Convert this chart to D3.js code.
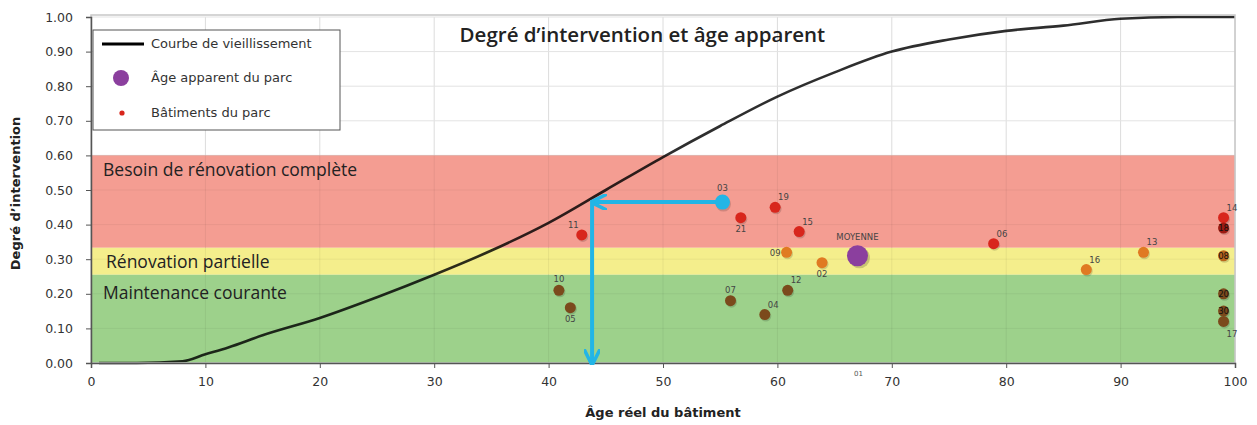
<!DOCTYPE html>
<html>
<head>
<meta charset="utf-8">
<script src="https://cdn.jsdelivr.net/npm/d3@7"></script>
<style>
  body { margin: 0; background: #fff; }
  text { font-family: "DejaVu Sans", "Liberation Sans", sans-serif; }
</style>
</head>
<body>
<svg id="chart"></svg>
<script>
(function() {

// Courbe de vieillissement (age, degré)
const curveAge   = [0.7, 4, 8, 10, 12, 15, 20, 25, 30, 35, 40, 45, 50, 55, 60, 65, 70, 75, 80, 85, 90, 95, 100];
const curveValue = [0, 0, 0.005, 0.025, 0.045, 0.08, 0.13, 0.19, 0.255, 0.325, 0.405, 0.5, 0.595, 0.685, 0.77, 0.84, 0.9, 0.935, 0.96, 0.975, 0.995, 1.0, 1.0];

// Bâtiments du parc
const bldLabels = ["19", "21", "15", "11", "09", "02", "10", "05", "07", "04", "12", "06", "16", "13", "14", "18", "08", "20", "30", "17"];
const bldAge    = [59.8, 56.8, 61.9, 42.9, 60.8, 63.9, 40.9, 41.9, 55.9, 58.9, 60.9, 78.9, 87, 92, 99, 99, 99, 99, 99, 99];
const bldValue  = [0.45, 0.42, 0.38, 0.37, 0.32, 0.29, 0.21, 0.16, 0.18, 0.14, 0.21, 0.345, 0.27, 0.32, 0.42, 0.39, 0.31, 0.20, 0.15, 0.12];
const bldClass  = ["r", "r", "r", "r", "o", "o", "b", "b", "b", "b", "b", "r", "o", "o", "r", "d", "do", "b", "b", "b"];
const bldPlace  = ["ne", "s", "ne", "nw", "w", "s", "n", "s", "n", "ne", "ne", "ne", "ne", "ne", "ne", "c", "c", "c", "c", "se"];

// Âge apparent
const meanAge = 67, meanValue = 0.31;
// Bâtiment mis en évidence
const hlLabel = "03", hlAge = 55.2, hlValue = 0.465, hlCurveAge = 43.8;

// Zones
const zoneNames = ["Besoin de rénovation complète", "Rénovation partielle", "Maintenance courante"];
const zoneLow   = [0.333, 0.255, 0];
const zoneHigh  = [0.60, 0.333, 0.255];
const zoneColor = ["#f49d92", "#f4ee8c", "#9dd18b"];

const xTicks = d3.range(0, 101, 10);
const yTicks = d3.range(0, 1.001, 0.1);

const W = 1257, H = 425;
const margin = { top: 17, right: 22, bottom: 62, left: 91 };
const width = W - margin.left - margin.right;
const height = H - margin.top - margin.bottom;

const svgRoot = d3.select("#chart").attr("width", W).attr("height", H);
const svg = svgRoot.append("g").attr("transform", `translate(${margin.left},${margin.top})`);

const x = d3.scaleLinear().domain([0, 100]).range([0, width]);
const y = d3.scaleLinear().domain([0, 1]).range([height, 0]);

const colors = { r: "#d8261c", d: "#9c1a12", o: "#e07a22", do: "#b9651c", b: "#7b4a1c" };

// grid
svg.selectAll(".vg").data(xTicks.slice(1)).enter().append("line")
  .attr("x1", d => x(d)).attr("x2", d => x(d)).attr("y1", 0).attr("y2", height)
  .attr("stroke", "#dcdcdc").attr("stroke-width", 1);
svg.selectAll(".hg").data(yTicks.slice(1)).enter().append("line")
  .attr("x1", 0).attr("x2", width).attr("y1", d => y(d)).attr("y2", d => y(d))
  .attr("stroke", "#e3e3e3").attr("stroke-width", 1);

// zones
svg.selectAll(".zone").data(zoneNames).enter().append("rect")
  .attr("x", 0).attr("width", width)
  .attr("y", (d, i) => y(zoneHigh[i]))
  .attr("height", (d, i) => y(zoneLow[i]) - y(zoneHigh[i]))
  .attr("fill", (d, i) => zoneColor[i]);

// faint grid over zones
svg.selectAll(".vg2").data(xTicks.slice(1)).enter().append("line")
  .attr("x1", d => x(d)).attr("x2", d => x(d)).attr("y1", y(0.6)).attr("y2", height)
  .attr("stroke", "#000").attr("stroke-opacity", 0.06);
svg.selectAll(".hg2").data(yTicks.filter(d => d > 0.05 && d < 0.65)).enter().append("line")
  .attr("x1", 0).attr("x2", width).attr("y1", d => y(d)).attr("y2", d => y(d))
  .attr("stroke", "#000").attr("stroke-opacity", 0.05);

// curve
const line = d3.line().x(d => x(d[0])).y(d => y(d[1])).curve(d3.curveMonotoneX);
svg.append("path")
  .datum(curveAge.map((a, i) => [a, curveValue[i]]))
  .attr("fill", "none").attr("stroke", "#000").attr("stroke-opacity", 0.82).attr("stroke-width", 2.6)
  .attr("d", line);

svg.selectAll(".zlabel").data(zoneNames).enter().append("text")
  .attr("x", (d, i) => i === 1 ? 15 : 12)
  .attr("y", (d, i) => [y(0.555), y(0.29), y(0.198)][i] + 5)
  .style("font-family", "'Open Sans', sans-serif").style("font-size", "17.5px").attr("fill", "#222")
  .text(d => d);

// frame
svg.append("rect").attr("x", 0).attr("y", -2).attr("width", width).attr("height", height + 2)
  .attr("fill", "none").attr("stroke", "#c8c8c8").attr("stroke-width", 1.5);

// axes
const xAxis = svg.append("g").attr("transform", `translate(0,${height})`)
  .call(d3.axisBottom(x).tickValues(xTicks).tickSize(5).tickPadding(9).tickFormat(d3.format("d")));
const yAxis = svg.append("g")
  .call(d3.axisLeft(y).tickValues(yTicks).tickSize(5).tickPadding(13).tickFormat(d3.format(".2f")));
[xAxis, yAxis].forEach(a => {
  a.select(".domain").attr("stroke", "#555").attr("stroke-width", 1.5);
  a.selectAll(".tick line").attr("stroke", "#555");
  a.selectAll(".tick text").style("font-family", "'DejaVu Sans', sans-serif").style("font-size", "12.5px").attr("fill", "#333");
});

svg.append("text").attr("x", x(50)).attr("y", height + 54).attr("text-anchor", "middle")
  .style("font-size", "13px").style("font-weight", "bold").attr("fill", "#222")
  .text("Âge réel du bâtiment");
svg.append("text").attr("transform", `translate(${-71},${y(0.49)}) rotate(-90)`)
  .attr("text-anchor", "middle").style("font-size", "13px").style("font-weight", "bold").attr("fill", "#222")
  .text("Degré d’intervention");

// title
svg.append("text").attr("x", x(48.2)).attr("y", 25).attr("text-anchor", "middle")
  .style("font-family", "'Open Sans', sans-serif").style("font-size", "20.5px").style("font-weight", "600").attr("fill", "#222")
  .text("Degré d’intervention et âge apparent");

// highlight arrow
const defs = svgRoot.append("defs");
defs.append("marker").attr("id", "arr").attr("viewBox", "0 0 10 10").attr("refX", 8).attr("refY", 5)
  .attr("markerWidth", 4).attr("markerHeight", 4).attr("orient", "auto")
  .append("path").attr("d", "M0,0 L10,5 L0,10").attr("fill", "none").attr("stroke", "#22b5e6").attr("stroke-width", 2.2);
svg.append("line").attr("x1", x(hlAge)).attr("x2", x(hlCurveAge) + 2).attr("y1", y(hlValue)).attr("y2", y(hlValue))
  .attr("stroke", "#22b5e6").attr("stroke-width", 4).attr("marker-end", "url(#arr)");
svg.append("line").attr("x1", x(hlCurveAge)).attr("x2", x(hlCurveAge)).attr("y1", y(hlValue) - 2).attr("y2", y(0) - 1)
  .attr("stroke", "#22b5e6").attr("stroke-width", 4).attr("marker-end", "url(#arr)");

// buildings
const off = { ne: [3, -7, "start"], nw: [-3, -7, "end"], n: [0, -8, "middle"], s: [0, 14, "middle"],
              w: [-6, 4, "end"], se: [3, 16, "start"], c: [0, 3, "middle"] };
const g = svg.selectAll(".bld").data(bldLabels).enter().append("g");
g.append("circle").attr("cx", (d, i) => x(bldAge[i]) + 1).attr("cy", (d, i) => y(bldValue[i]) + 1.5)
  .attr("r", 5.5).attr("fill", "#000").attr("opacity", 0.15);
g.append("circle").attr("cx", (d, i) => x(bldAge[i])).attr("cy", (d, i) => y(bldValue[i]))
  .attr("r", 5.5).attr("fill", (d, i) => colors[bldClass[i]]);
g.append("text")
  .attr("x", (d, i) => x(bldAge[i]) + off[bldPlace[i]][0])
  .attr("y", (d, i) => y(bldValue[i]) + off[bldPlace[i]][1])
  .attr("text-anchor", (d, i) => off[bldPlace[i]][2])
  .style("font-size", "8.5px").attr("fill", (d, i) => bldPlace[i] === "c" ? "#111" : "#444")
  .text(d => d);

// highlighted building
svg.append("circle").attr("cx", x(hlAge) + 1).attr("cy", y(hlValue) + 2).attr("r", 7.5).attr("fill", "#000").attr("opacity", 0.15);
svg.append("circle").attr("cx", x(hlAge)).attr("cy", y(hlValue)).attr("r", 7.5).attr("fill", "#22b5e6");
svg.append("text").attr("x", x(hlAge)).attr("y", y(hlValue) - 11).attr("text-anchor", "middle")
  .style("font-size", "8.5px").attr("fill", "#444").text(hlLabel);

// mean
svg.append("circle").attr("cx", x(meanAge) + 2).attr("cy", y(meanValue) + 2).attr("r", 10.5).attr("fill", "#000").attr("opacity", 0.18);
svg.append("circle").attr("cx", x(meanAge)).attr("cy", y(meanValue)).attr("r", 10.5).attr("fill", "#8b3f9e");
svg.append("text").attr("x", x(meanAge)).attr("y", y(meanValue) - 16).attr("text-anchor", "middle")
  .style("font-size", "8.5px").attr("fill", "#444").text("MOYENNE");
svg.append("text").attr("x", x(meanAge) + 1).attr("y", height + 13).attr("text-anchor", "middle")
  .style("font-size", "7px").attr("fill", "#555").text("01");

// legend
const lg = svg.append("g").attr("transform", `translate(2,13)`);
lg.append("rect").attr("width", 247).attr("height", 100).attr("fill", "#fff").attr("stroke", "#555").attr("stroke-width", 1);
lg.append("line").attr("x1", 9).attr("x2", 51).attr("y1", 14).attr("y2", 14).attr("stroke", "#000").attr("stroke-width", 3);
lg.append("circle").attr("cx", 28).attr("cy", 48).attr("r", 8).attr("fill", "#8b3f9e");
lg.append("circle").attr("cx", 29).attr("cy", 83).attr("r", 2.6).attr("fill", "#d8261c");
lg.selectAll(".lt").data(["Courbe de vieillissement", "Âge apparent du parc", "Bâtiments du parc"]).enter().append("text")
  .attr("x", 58).attr("y", (d, i) => [18, 52, 87][i])
  .style("font-size", "13px").attr("fill", "#333").text(d => d);

})();
</script>
</body>
</html>
